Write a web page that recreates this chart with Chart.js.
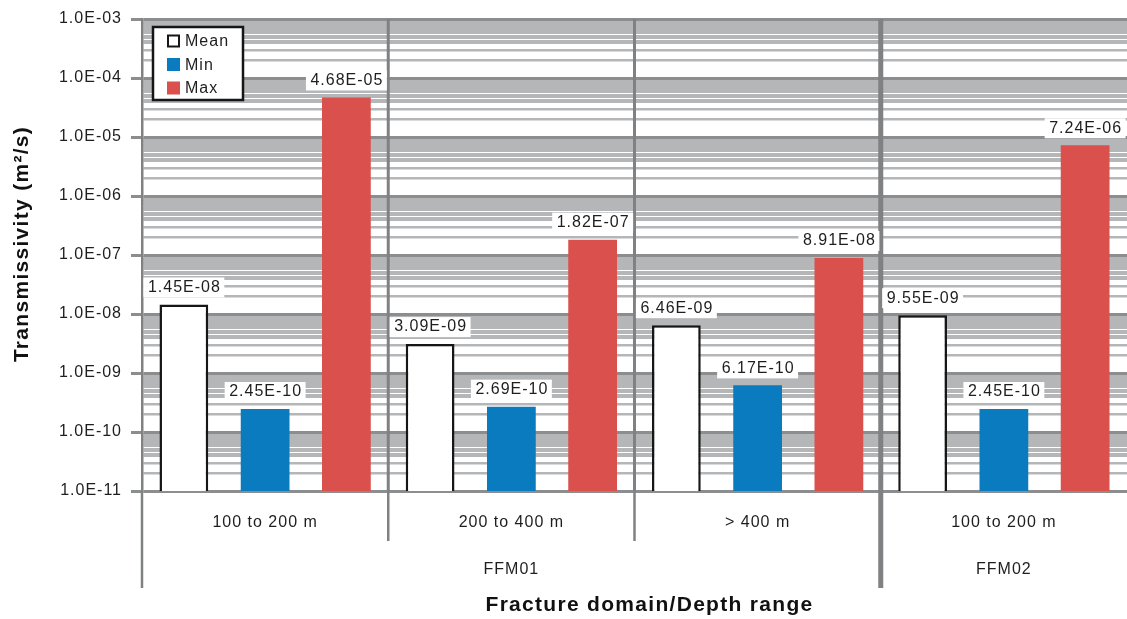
<!DOCTYPE html>
<html>
<head>
<meta charset="utf-8">
<script src="https://cdn.jsdelivr.net/npm/chart.js@4.4.1/dist/chart.umd.min.js"></script>
<style>
  html, body { margin: 0; padding: 0; background: #fff; overflow: hidden; }
  #wrap { width: 1127px; height: 619px; position: relative; }
</style>
</head>
<body>
<div id="wrap"><canvas id="c" width="1127" height="619"></canvas></div>
<script>
// Depth ranges per fracture domain
const categories = ['100 to 200 m', '200 to 400 m', '> 400 m', '100 to 200 m'];
const groupNames = ['FFM01', 'FFM02'];
const groupSizes = [3, 1];

// Transmissivity statistics (m²/s)
const meanValues = [1.45e-8, 3.09e-9, 6.46e-9, 9.55e-9];
const minValues  = [2.45e-10, 2.69e-10, 6.17e-10, 2.45e-10];
const maxValues  = [4.68e-5, 1.82e-7, 8.91e-8, 7.24e-6];

// Decade ticks of the log axis
const yDecades = [1e-11, 1e-10, 1e-9, 1e-8, 1e-7, 1e-6, 1e-5, 1e-4, 1e-3];
const yTickLabels = ['1.0E-11', '1.0E-10', '1.0E-09', '1.0E-08', '1.0E-07',
                     '1.0E-06', '1.0E-05', '1.0E-04', '1.0E-03'];

const FONT = "'Liberation Sans', Arial, sans-serif";
const MAJOR_GRID = '#8b8d8f';
const MINOR_GRID = '#b4b6b7';
const DIVIDER = '#7f8183';
const TEXT = '#1e1e1e';

function sci(v) {
  const parts = v.toExponential(2).split('e');
  const n = parseInt(parts[1], 10);
  return parts[0] + 'E' + (n < 0 ? '-' : '+') + String(Math.abs(n)).padStart(2, '0');
}

// Slightly tracked text, as in the printed figure
const spacingPlugin = {
  id: 'spacing',
  beforeDraw(chart) { chart.ctx.letterSpacing = '1px'; }
};

// Category separators below and inside the plot, plus domain labels
const framePlugin = {
  id: 'frame',
  beforeDatasetsDraw(chart) {
    const { ctx, chartArea: a, scales: { x } } = chart;
    const n = categories.length;
    const edge = i => {
      if (i <= 0) return a.left;
      if (i >= n) return a.right;
      return (x.getPixelForValue(i - 1) + x.getPixelForValue(i)) / 2;
    };
    const groupStarts = [];
    let acc = 0;
    groupSizes.forEach(s => { groupStarts.push(acc); acc += s; });

    ctx.save();
    ctx.strokeStyle = DIVIDER;
    // left edge extension under the axis
    ctx.lineWidth = 2.5;
    ctx.beginPath();
    ctx.moveTo(a.left, a.bottom);
    ctx.lineTo(a.left, 588);
    ctx.stroke();
    for (let i = 1; i < n; i++) {
      const px = edge(i);
      const isGroup = groupStarts.includes(i);
      ctx.beginPath();
      if (isGroup) {
        ctx.lineWidth = 5;
        ctx.moveTo(px, a.top);
        ctx.lineTo(px, 588);
        ctx.stroke();
      } else {
        ctx.lineWidth = 3;
        ctx.moveTo(px, a.top);
        ctx.lineTo(px, a.bottom);
        ctx.stroke();
        ctx.lineWidth = 2.5;
        ctx.beginPath();
        ctx.moveTo(px, a.bottom);
        ctx.lineTo(px, 541);
        ctx.stroke();
      }
    }
    // domain labels
    ctx.letterSpacing = '1px';
    ctx.font = '16px ' + FONT;
    ctx.fillStyle = TEXT;
    ctx.textAlign = 'center';
    ctx.textBaseline = 'middle';
    groupNames.forEach((g, gi) => {
      const s = groupStarts[gi];
      const cx = (edge(s) + edge(s + groupSizes[gi])) / 2;
      ctx.fillText(g, cx, 570);
    });
    ctx.restore();
  }
};

// Value labels on white boxes above each bar
const valueLabelPlugin = {
  id: 'valueLabels',
  afterDatasetsDraw(chart) {
    const ctx = chart.ctx;
    ctx.save();
    ctx.letterSpacing = '1px';
    ctx.font = '16px ' + FONT;
    ctx.textAlign = 'center';
    ctx.textBaseline = 'middle';
    chart.data.datasets.forEach((ds, di) => {
      const meta = chart.getDatasetMeta(di);
      meta.data.forEach((bar, i) => {
        const txt = sci(ds.data[i]);
        const w = ctx.measureText(txt).width + 8;
        const cy = bar.y - 17;
        ctx.fillStyle = '#ffffff';
        ctx.fillRect(bar.x - w / 2, cy - 10, w, 20);
        ctx.fillStyle = TEXT;
        ctx.fillText(txt, bar.x + 0.5, cy);
      });
    });
    ctx.restore();
  }
};

// Boxed legend in the upper-left corner of the plot, plus axis titles
const legendPlugin = {
  id: 'boxLegend',
  afterDraw(chart) {
    const { ctx, chartArea: a } = chart;
    ctx.save();
    const bx = a.left + 11, by = 27, bw = 90, bh = 73;
    ctx.fillStyle = '#ffffff';
    ctx.fillRect(bx, by, bw, bh);
    ctx.strokeStyle = '#161616';
    ctx.lineWidth = 2.5;
    ctx.strokeRect(bx, by, bw, bh);
    ctx.letterSpacing = '1px';
    ctx.font = '16px ' + FONT;
    ctx.textAlign = 'left';
    ctx.textBaseline = 'middle';
    chart.data.datasets.forEach((ds, i) => {
      const cy = by + 14 + i * 23.5;
      ctx.fillStyle = ds.backgroundColor;
      ctx.fillRect(bx + 14, cy - 6.5, 13, 13);
      if (ds.borderWidth) {
        ctx.strokeStyle = ds.borderColor;
        ctx.lineWidth = 2;
        ctx.strokeRect(bx + 15, cy - 5.5, 11, 11);
      }
      ctx.fillStyle = TEXT;
      ctx.fillText(ds.label, bx + 32, cy + 1);
    });

    // axis titles
    ctx.fillStyle = '#111111';
    ctx.font = 'bold 21px ' + FONT;
    ctx.letterSpacing = '1.3px';
    ctx.textAlign = 'center';
    ctx.textBaseline = 'middle';
    ctx.fillText('Fracture domain/Depth range', (a.left + a.right) / 2 + 15, 605);
    ctx.translate(22, (a.top + a.bottom) / 2 - 11);
    ctx.rotate(-Math.PI / 2);
    ctx.fillText('Transmissivity (m\u00B2/s)', 0, 0);
    ctx.restore();
  }
};

const isMajorTick = t => t && t.major;

new Chart(document.getElementById('c'), {
  type: 'bar',
  data: {
    labels: categories,
    datasets: [
      { label: 'Mean', data: meanValues, backgroundColor: '#ffffff', borderColor: '#161616', borderWidth: 2.5 },
      { label: 'Min',  data: minValues,  backgroundColor: '#0a7bbf', borderWidth: 0 },
      { label: 'Max',  data: maxValues,  backgroundColor: '#d9504d', borderWidth: 0 }
    ]
  },
  options: {
    responsive: false,
    animation: false,
    devicePixelRatio: 1,
    layout: { padding: { top: 19, right: 0, left: 0, bottom: 0 } },
    datasets: { bar: { categoryPercentage: 0.99, barPercentage: 0.6 } },
    plugins: { legend: { display: false }, tooltip: { enabled: false } },
    scales: {
      x: {
        type: 'category',
        offset: true,
        grid: { display: false, drawTicks: false },
        border: { display: false },
        ticks: { color: TEXT, font: { family: FONT, size: 16 }, padding: 22, maxRotation: 0, autoSkip: false },
        afterFit(scale) { scale.height = 128; }
      },
      y: {
        type: 'logarithmic',
        min: yDecades[0],
        max: yDecades[yDecades.length - 1],
        afterBuildTicks(scale) {
          const ticks = [];
          yDecades.forEach((d, i) => {
            ticks.push({ value: d, major: true });
            if (i < yDecades.length - 1) {
              for (let k = 2; k <= 9; k++) ticks.push({ value: d * k, major: false });
            }
          });
          scale.ticks = ticks;
        },
        afterFit(scale) { scale.width = 142; },
        ticks: {
          autoSkip: false,
          color: TEXT,
          padding: 9,
          font: { family: FONT, size: 16 },
          callback(value, index, ticks) {
            const t = ticks[index];
            if (!t || !t.major) return '';
            const j = yDecades.indexOf(t.value);
            return j >= 0 ? yTickLabels[j] : '';
          }
        },
        grid: {
          color: ctx => isMajorTick(ctx.tick) ? MAJOR_GRID : MINOR_GRID,
          lineWidth: ctx => {
            if (isMajorTick(ctx.tick)) return 3;
            const k = Math.round(ctx.tick.value / Math.pow(10, Math.floor(Math.log10(ctx.tick.value) + 1e-9)));
            return k >= 4 ? 4 : 2.5;
          },
          tickLength: 11,
          tickWidth: 3,
          tickColor: ctx => isMajorTick(ctx.tick) ? MAJOR_GRID : 'rgba(0,0,0,0)'
        },
        border: { display: true, color: DIVIDER, width: 2.5 }
      }
    }
  },
  plugins: [spacingPlugin, framePlugin, valueLabelPlugin, legendPlugin]
});
</script>
</body>
</html>
